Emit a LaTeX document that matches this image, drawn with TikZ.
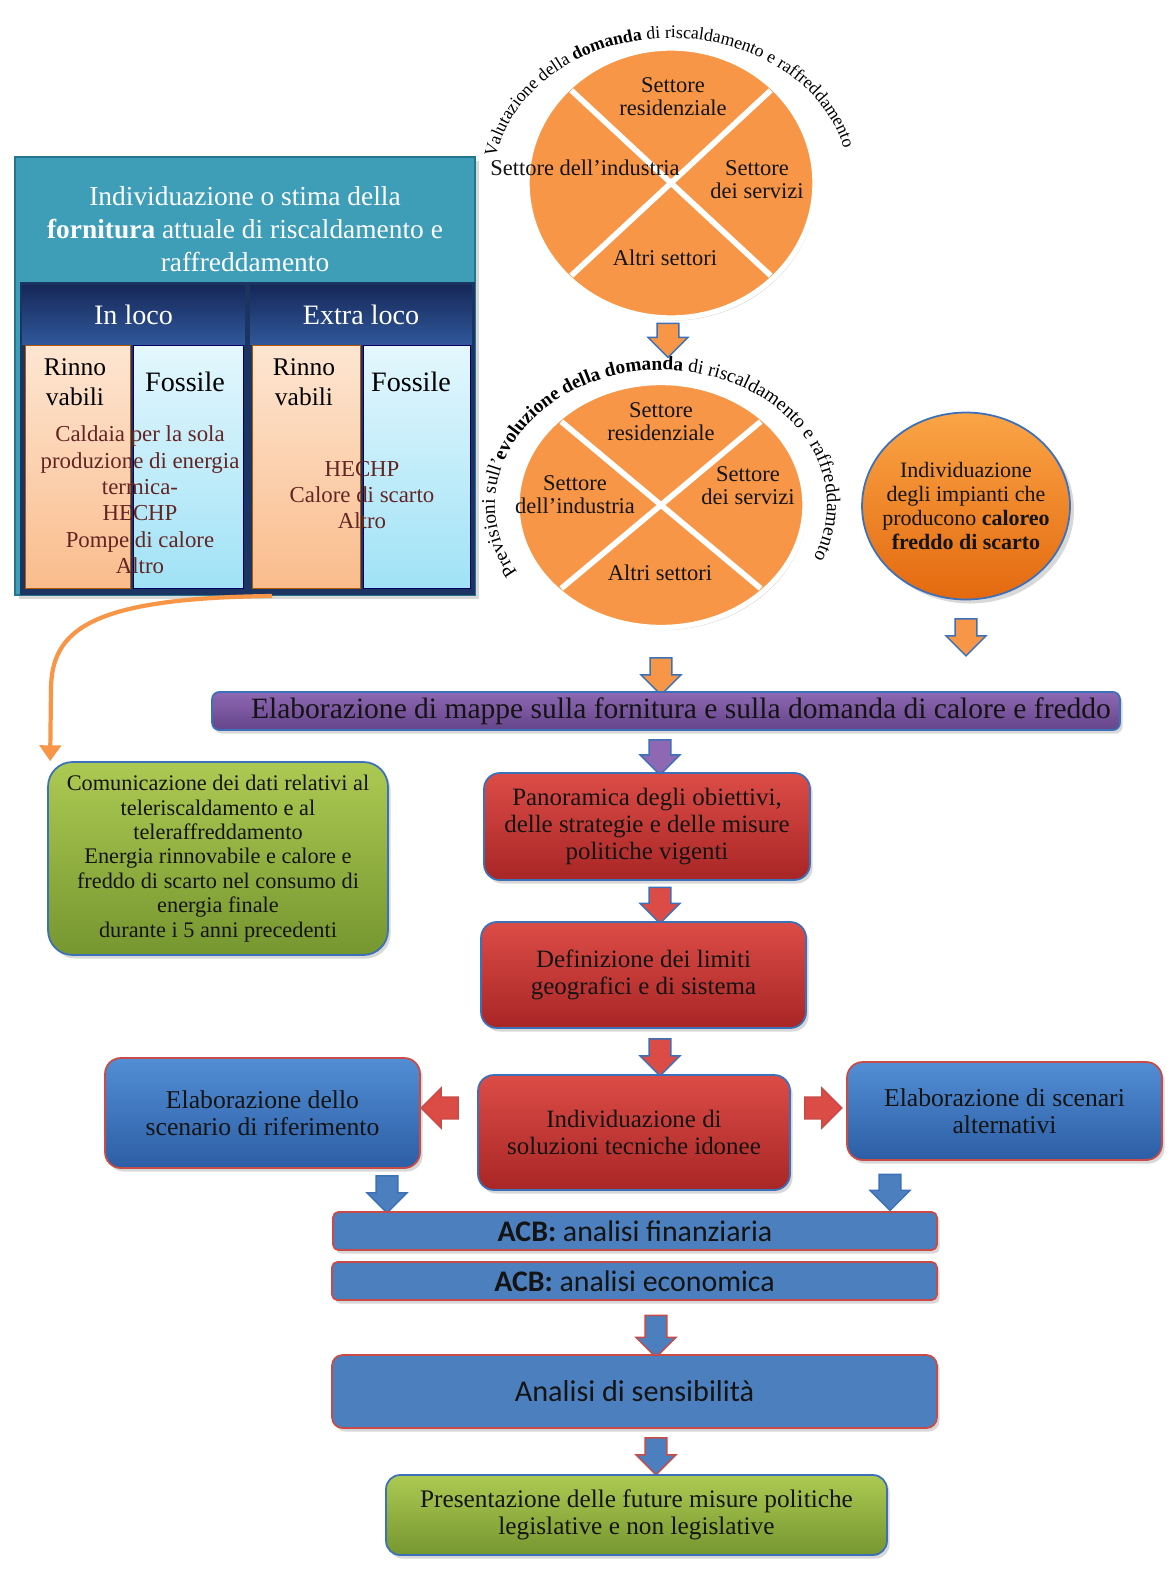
\documentclass[tikz,border=0pt]{standalone}
\usepackage{fontspec}
\setmainfont{Liberation Serif}
\newfontfamily\calib{Carlito}
\usetikzlibrary{positioning,arrows.meta,calc,shapes.geometric,shapes.arrows,shadows,decorations.text}
\newcommand{\arcfont}{\fontsize{10.1}{11}\selectfont}
\newcommand{\arcfontb}{\fontsize{11}{12}\selectfont}
\definecolor{tealH}{RGB}{62,158,184}
\definecolor{tealD}{RGB}{35,118,142}
\definecolor{navyD}{RGB}{28,52,98}
\definecolor{navyT}{RGB}{22,40,88}
\definecolor{navyB}{RGB}{48,88,155}
\definecolor{peachT}{RGB}{253,230,210}
\definecolor{peachB}{RGB}{250,188,140}
\definecolor{cyanT}{RGB}{228,247,253}
\definecolor{cyanB}{RGB}{160,226,246}
\definecolor{listtxt}{RGB}{99,37,35}
\definecolor{orangeF}{RGB}{247,150,70}
\definecolor{orangeT}{RGB}{250,165,70}
\definecolor{orangeB}{RGB}{228,105,15}
\definecolor{blueO}{RGB}{60,112,185}
\definecolor{redO}{RGB}{200,75,72}
\definecolor{purT}{RGB}{142,104,178}
\definecolor{purB}{RGB}{100,68,138}
\definecolor{redT}{RGB}{220,76,70}
\definecolor{redB}{RGB}{168,38,38}
\definecolor{blueT}{RGB}{82,142,212}
\definecolor{blueB}{RGB}{44,94,165}
\definecolor{acbB}{RGB}{76,127,190}
\definecolor{greenT}{RGB}{172,202,82}
\definecolor{greenB}{RGB}{118,150,48}
\definecolor{txt}{RGB}{20,20,20}

\begin{document}
\begin{tikzpicture}[x=0.02cm, y=0.02cm,
  font=\fontsize{14.2}{15.5}\selectfont, text=txt,
  box/.style={rounded corners=9pt, align=center, inner sep=2pt, line width=1pt,
    drop shadow={opacity=0.3, shadow xshift=1.5pt, shadow yshift=-2pt}},
  redbox/.style={box, draw=blueO, top color=redT, bottom color=redB},
  bluebox/.style={box, draw=redO, top color=blueT, bottom color=blueB},
  acbbar/.style={box, rounded corners=3pt, draw=redO, fill=acbB, minimum height=0.76cm, inner sep=0pt,
    font=\calib\fontsize{17}{19}\selectfont},
  greenbox/.style={box, draw=blueO, top color=greenT, bottom color=greenB},
  colhead/.style={inner sep=0pt, minimum height=1.2cm, top color=navyT, bottom color=navyB,
    text=white, font=\fontsize{16}{18}\selectfont},
  rencol/.style={minimum height=4.86cm, inner sep=0pt, draw=orange!70!black, line width=0.4pt,
    top color=peachT, bottom color=peachB},
  fosscol/.style={rencol, draw=blue!40!black, top color=cyanT, bottom color=cyanB},
  coltitle/.style={align=center, inner sep=1pt, text=black, font=\fontsize{14.5}{17}\selectfont},
  srclist/.style={align=center, inner sep=1pt, text=listtxt, font=\fontsize{13}{15}\selectfont},
  demcircle/.style={ellipse, draw=white, line width=3pt, fill=orangeF, inner sep=0pt,
    drop shadow={opacity=0.35, shadow xshift=1pt, shadow yshift=-1.5pt}},
  cross/.style={white, line width=3.2pt},
  lbl/.style={align=center, inner sep=1pt, font=\fontsize{12.8}{13.2}\selectfont},
  blk/.style={single arrow, draw=blueO, line width=0.8pt, minimum height=0.74cm,
    minimum width=0.8cm, single arrow head extend=0.18cm, inner xsep=0pt, inner ysep=0.2cm},
  blkdown/.style={blk, rotate=-90},
  curvarr/.style={orangeF, line width=2.4pt, -{Triangle[width=12pt,length=9pt]}}]
\fill[white] (0,0) rectangle (1172,-1575);
\useasboundingbox (0,0) rectangle (1172,-1575);
% ---- supply (top left) ----
\node[draw=tealD, line width=1.2pt, fill=tealH, minimum width=9.2cm, minimum height=8.76cm,
  drop shadow={opacity=0.3}] (supply) at (245,-376) {};
\node[text=white, align=center, font=\fontsize{15.6}{18.7}\selectfont] (suphead) at (245,-229)
  {Individuazione o stima della\\\textbf{fornitura} attuale di riscaldamento e\\raffreddamento};
\node[fill=navyD, minimum width=9.1cm, minimum height=6.26cm, inner sep=0pt] (supbody) at (247.5,-438.5) {};
\node[colhead, minimum width=4.46cm] (inloco) at (133.5,-315) {In loco};
\node[colhead, minimum width=4.44cm] (extraloco) at (361,-315) {Extra loco};
\node[rencol, minimum width=2.1cm] (renA) at (77.5,-466.5) {};
\node[fosscol, minimum width=2.2cm] (fosA) at (188,-466.5) {};
\node[rencol, minimum width=2.16cm] (renB) at (306,-466.5) {};
\node[fosscol, minimum width=2.14cm] (fosB) at (416.5,-466.5) {};
\node[coltitle] (renAt) at (75,-382) {Rinno\\vabili};
\node[coltitle, font=\fontsize{16}{17}\selectfont] (fosAt) at (185,-382) {Fossile};
\node[coltitle] (renBt) at (304,-382) {Rinno\\vabili};
\node[coltitle, font=\fontsize{16}{17}\selectfont] (fosBt) at (411,-382) {Fossile};
\node[srclist] (listA) at (140,-500)
  {Caldaia per la sola\\produzione di energia\\termica-\\HECHP\\Pompe di calore\\Altro};
\node[srclist] (listB) at (362,-495) {HECHP\\Calore di scarto\\Altro};
% ---- demand circles ----
\node[demcircle, minimum width=5.76cm, minimum height=5.4cm] (dem1) at (671,-183) {};
\draw[cross] ($(dem1)+(135:141 and 131)$) -- ($(dem1)+(-45:141 and 131)$);
\draw[cross] ($(dem1)+(45:141 and 131)$) -- ($(dem1)+(225:141 and 131)$);
\node[lbl] (res1) at (673,-97) {Settore\\residenziale};
\node[lbl] (ind1) at (585,-168) {Settore dell'industria};
\node[lbl] (serv1) at (757,-180) {Settore\\dei servizi};
\node[lbl] (alt1) at (665,-258) {Altri settori};
\path[decorate, decoration={text along path, text align=center,
  text={|\arcfont|Valutazione della |\arcfont\bfseries|domanda|\arcfont\mdseries| di riscaldamento e raffreddamento}}]
  ([shift={(173:178 and 145)}]dem1.center) arc[start angle=173, end angle=10.6, x radius=178, y radius=145];

\node[demcircle, minimum width=5.76cm, minimum height=4.9cm] (dem2) at (661,-505) {};
\draw[cross] ($(dem2)+(135:141 and 118)$) -- ($(dem2)+(-45:141 and 118)$);
\draw[cross] ($(dem2)+(45:141 and 118)$) -- ($(dem2)+(225:141 and 118)$);
\node[lbl] (res2) at (661,-422) {Settore\\residenziale};
\node[lbl] (ind2) at (575,-495) {Settore\\dell'industria};
\node[lbl] (serv2) at (748,-486) {Settore\\dei servizi};
\node[lbl] (alt2) at (660,-573) {Altri settori};
\path[decorate, decoration={text along path, text align=center,
  text={|\arcfontb|Previsioni sull'|\arcfontb\bfseries|evoluzione della domanda|\arcfontb\mdseries| di riscaldamento e raffreddamento}}]
  ([shift={(209:166 and 135)}]dem2.center) arc[start angle=209, end angle=-22, x radius=166, y radius=135];

\node[ellipse, draw=blueO, line width=1pt, top color=orangeT, bottom color=orangeB,
  minimum width=4.16cm, minimum height=3.74cm, inner sep=0pt, drop shadow={opacity=0.3}] (waste) at (966,-506) {};
\node[align=center, inner sep=0pt, font=\fontsize{12.5}{13.6}\selectfont] (wastetxt) at (waste.center)
  {Individuazione\\degli impianti che\\producono \textbf{caloreo}\\\textbf{freddo di scarto}};
% ---- block arrows ----
\node[blkdown, fill=orangeF, minimum height=0.68cm] (a1) at (668,-335) {};
\node[blkdown, fill=orangeF] (a2) at (966,-632) {};
\node[blkdown, fill=orangeF] (a3) at (661,-671) {};
\node[blkdown, fill=purT, minimum height=0.7cm] (a4) at (660,-752) {};
\node[blkdown, fill=redT, minimum height=0.72cm] (a5) at (660,-900) {};
\node[blkdown, fill=redT] (a6) at (660,-1052) {};
\node[blk, rotate=180, fill=redT, draw=redO] (aL) at (445,-1108) {};
\node[blk, fill=redT, draw=redO] (aR) at (818,-1108) {};
\node[blkdown, fill=acbB] (aBL) at (387,-1189) {};
\node[blkdown, fill=acbB, minimum height=0.72cm] (aBR) at (890,-1187) {};
\node[blkdown, fill=acbB, draw=redO, minimum height=0.84cm] (a7) at (656,-1331) {};
\node[blkdown, fill=acbB, draw=redO] (a8) at (656,-1451) {};
% ---- flow boxes ----
\node[box, rounded corners=4pt, draw=blueO, top color=purT, bottom color=purB, inner sep=0pt,
  minimum width=18.16cm, minimum height=0.76cm, font=\fontsize{16.8}{18}\selectfont] (maps) at (666,-711)
  {\hspace*{0.6cm}Elaborazione di mappe sulla fornitura e sulla domanda di calore e freddo};
\node[greenbox, rounded corners=14pt, minimum width=6.8cm, minimum height=3.86cm,
  font=\fontsize{12.7}{13.9}\selectfont] (comm) at (218,-858.5)
  {Comunicazione dei dati relativi al\\teleriscaldamento e al\\teleraffreddamento\\Energia rinnovabile e calore e\\freddo di scarto nel consumo di\\energia finale\\durante i 5 anni precedenti};
\node[redbox, minimum width=6.52cm, minimum height=2.14cm] (pano) at (647,-826.5)
  {Panoramica degli obiettivi,\\delle strategie e delle misure\\politiche vigenti};
\node[redbox, minimum width=6.5cm, minimum height=2.12cm] (defi) at (643.5,-975)
  {Definizione dei limiti\\geografici e di sistema};
\node[redbox, minimum width=6.24cm, minimum height=2.3cm] (sol) at (634,-1132.5)
  {Individuazione di\\soluzioni tecniche idonee};
\node[bluebox, minimum width=6.3cm, minimum height=2.2cm, font=\fontsize{14.6}{15.5}\selectfont] (scenref) at (262.5,-1113)
  {Elaborazione dello\\scenario di riferimento};
\node[bluebox, minimum width=6.3cm, minimum height=1.96cm, font=\fontsize{14.6}{15.5}\selectfont] (scenalt) at (1004.5,-1111)
  {Elaborazione di scenari\\alternativi};
\node[acbbar, minimum width=12.08cm] (acbf) at (635,-1231) {\textbf{ACB:} analisi finanziaria};
\node[acbbar, minimum width=12.1cm] (acbe) at (634.5,-1281) {\textbf{ACB:} analisi economica};
\node[bluebox, rounded corners=6pt, fill=acbB, top color=acbB, bottom color=acbB,
  minimum width=12.1cm, minimum height=1.46cm, font=\calib\fontsize{17.2}{19}\selectfont] (sens) at (634.5,-1391.5)
  {Analisi di sensibilità};
\node[greenbox, rounded corners=8pt, minimum width=10.02cm, minimum height=1.6cm,
  font=\fontsize{14.4}{15.3}\selectfont] (pres) at (636.5,-1515)
  {Presentazione delle future misure politiche\\legislative e non legislative};
% ---- curved connector ----
\draw[curvarr] ([xshift=0.54cm]supply.south) .. controls (90,-598) and (51,-630) .. (51,-690)
  -- ([xshift=1.7pt]comm.north west);
\end{tikzpicture}
\end{document}
